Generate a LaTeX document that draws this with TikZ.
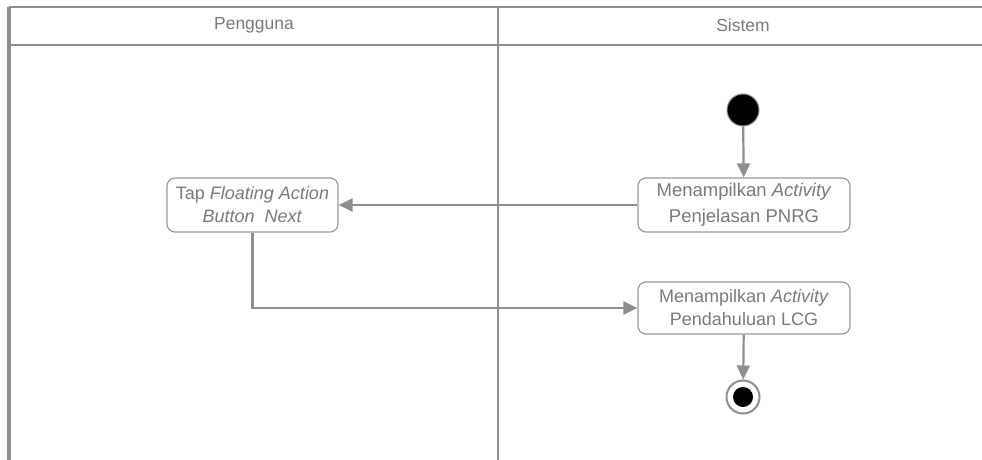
\documentclass[tikz,border=0pt]{standalone}
\usepackage{fontspec}
\setmainfont{Liberation Sans}
\usetikzlibrary{arrows.meta}
\definecolor{lanegray}{HTML}{8E8E8E}
\definecolor{textgray}{HTML}{7A7A7A}
\definecolor{boxgray}{HTML}{9A9A9A}
\tikzset{
  lane/.style={draw=lanegray, line width=1.2pt},
  action/.style={draw=boxgray, line width=1.2pt, rounded corners=8pt, fill=white,
    minimum width=#1, minimum height=54pt, align=center, text=textgray,
    inner sep=2pt},
  flow/.style={draw=lanegray, line width=2.2pt,
    -{Triangle[length=14pt, width=13pt]}},
  headtext/.style={text=textgray, font=\fontsize{17.5pt}{20pt}\selectfont},
}
\begin{document}
\begin{tikzpicture}[x=1pt, y=-1pt]
\useasboundingbox (0,0) rectangle (982,460);
% swimlane frame
\draw[lane] (9,7) -- (982,7);
\draw[lane] (9,45) -- (982,45);
\draw[lanegray, line width=3.5pt] (9,7) -- (9,460);
\draw[lane] (498,7) -- (498,460);
\node[headtext] (hUser) at (254,25) {Pengguna};
\node[headtext] (hSys) at (743,25) {Sistem};

% activity nodes
\node[circle, fill=black, draw=lanegray, line width=1pt, minimum size=32pt, inner sep=0pt] (start) at (743,110) {};
\node[action=212pt, font=\fontsize{18.5pt}{26pt}\selectfont] (show1) at (744,205)
  {Menampilkan \textit{Activity}\\Penjelasan PNRG};
\node[action=171pt, font=\fontsize{18pt}{23pt}\selectfont] (tap) at (252.5,205)
  {Tap \textit{Floating Action}\\\textit{Button\ \ Next}};
\node[action=212pt, minimum height=52pt, font=\fontsize{18pt}{23pt}\selectfont] (show2) at (744,308)
  {Menampilkan \textit{Activity}\\Pendahuluan LCG};
\node[circle, draw=lanegray, line width=2pt, fill=white, minimum size=33pt, inner sep=0pt] (end) at (743,397) {};
\node[circle, fill=black, minimum size=20pt, inner sep=0pt] (endDot) at (end.center) {};

% control flows
\draw[flow] (start) -- (show1);
\draw[flow] (show1.west) -- (tap.east);
\draw[flow] (tap.south) |- (show2.west);
\draw[flow] (show2) -- (end);
\end{tikzpicture}
\end{document}
